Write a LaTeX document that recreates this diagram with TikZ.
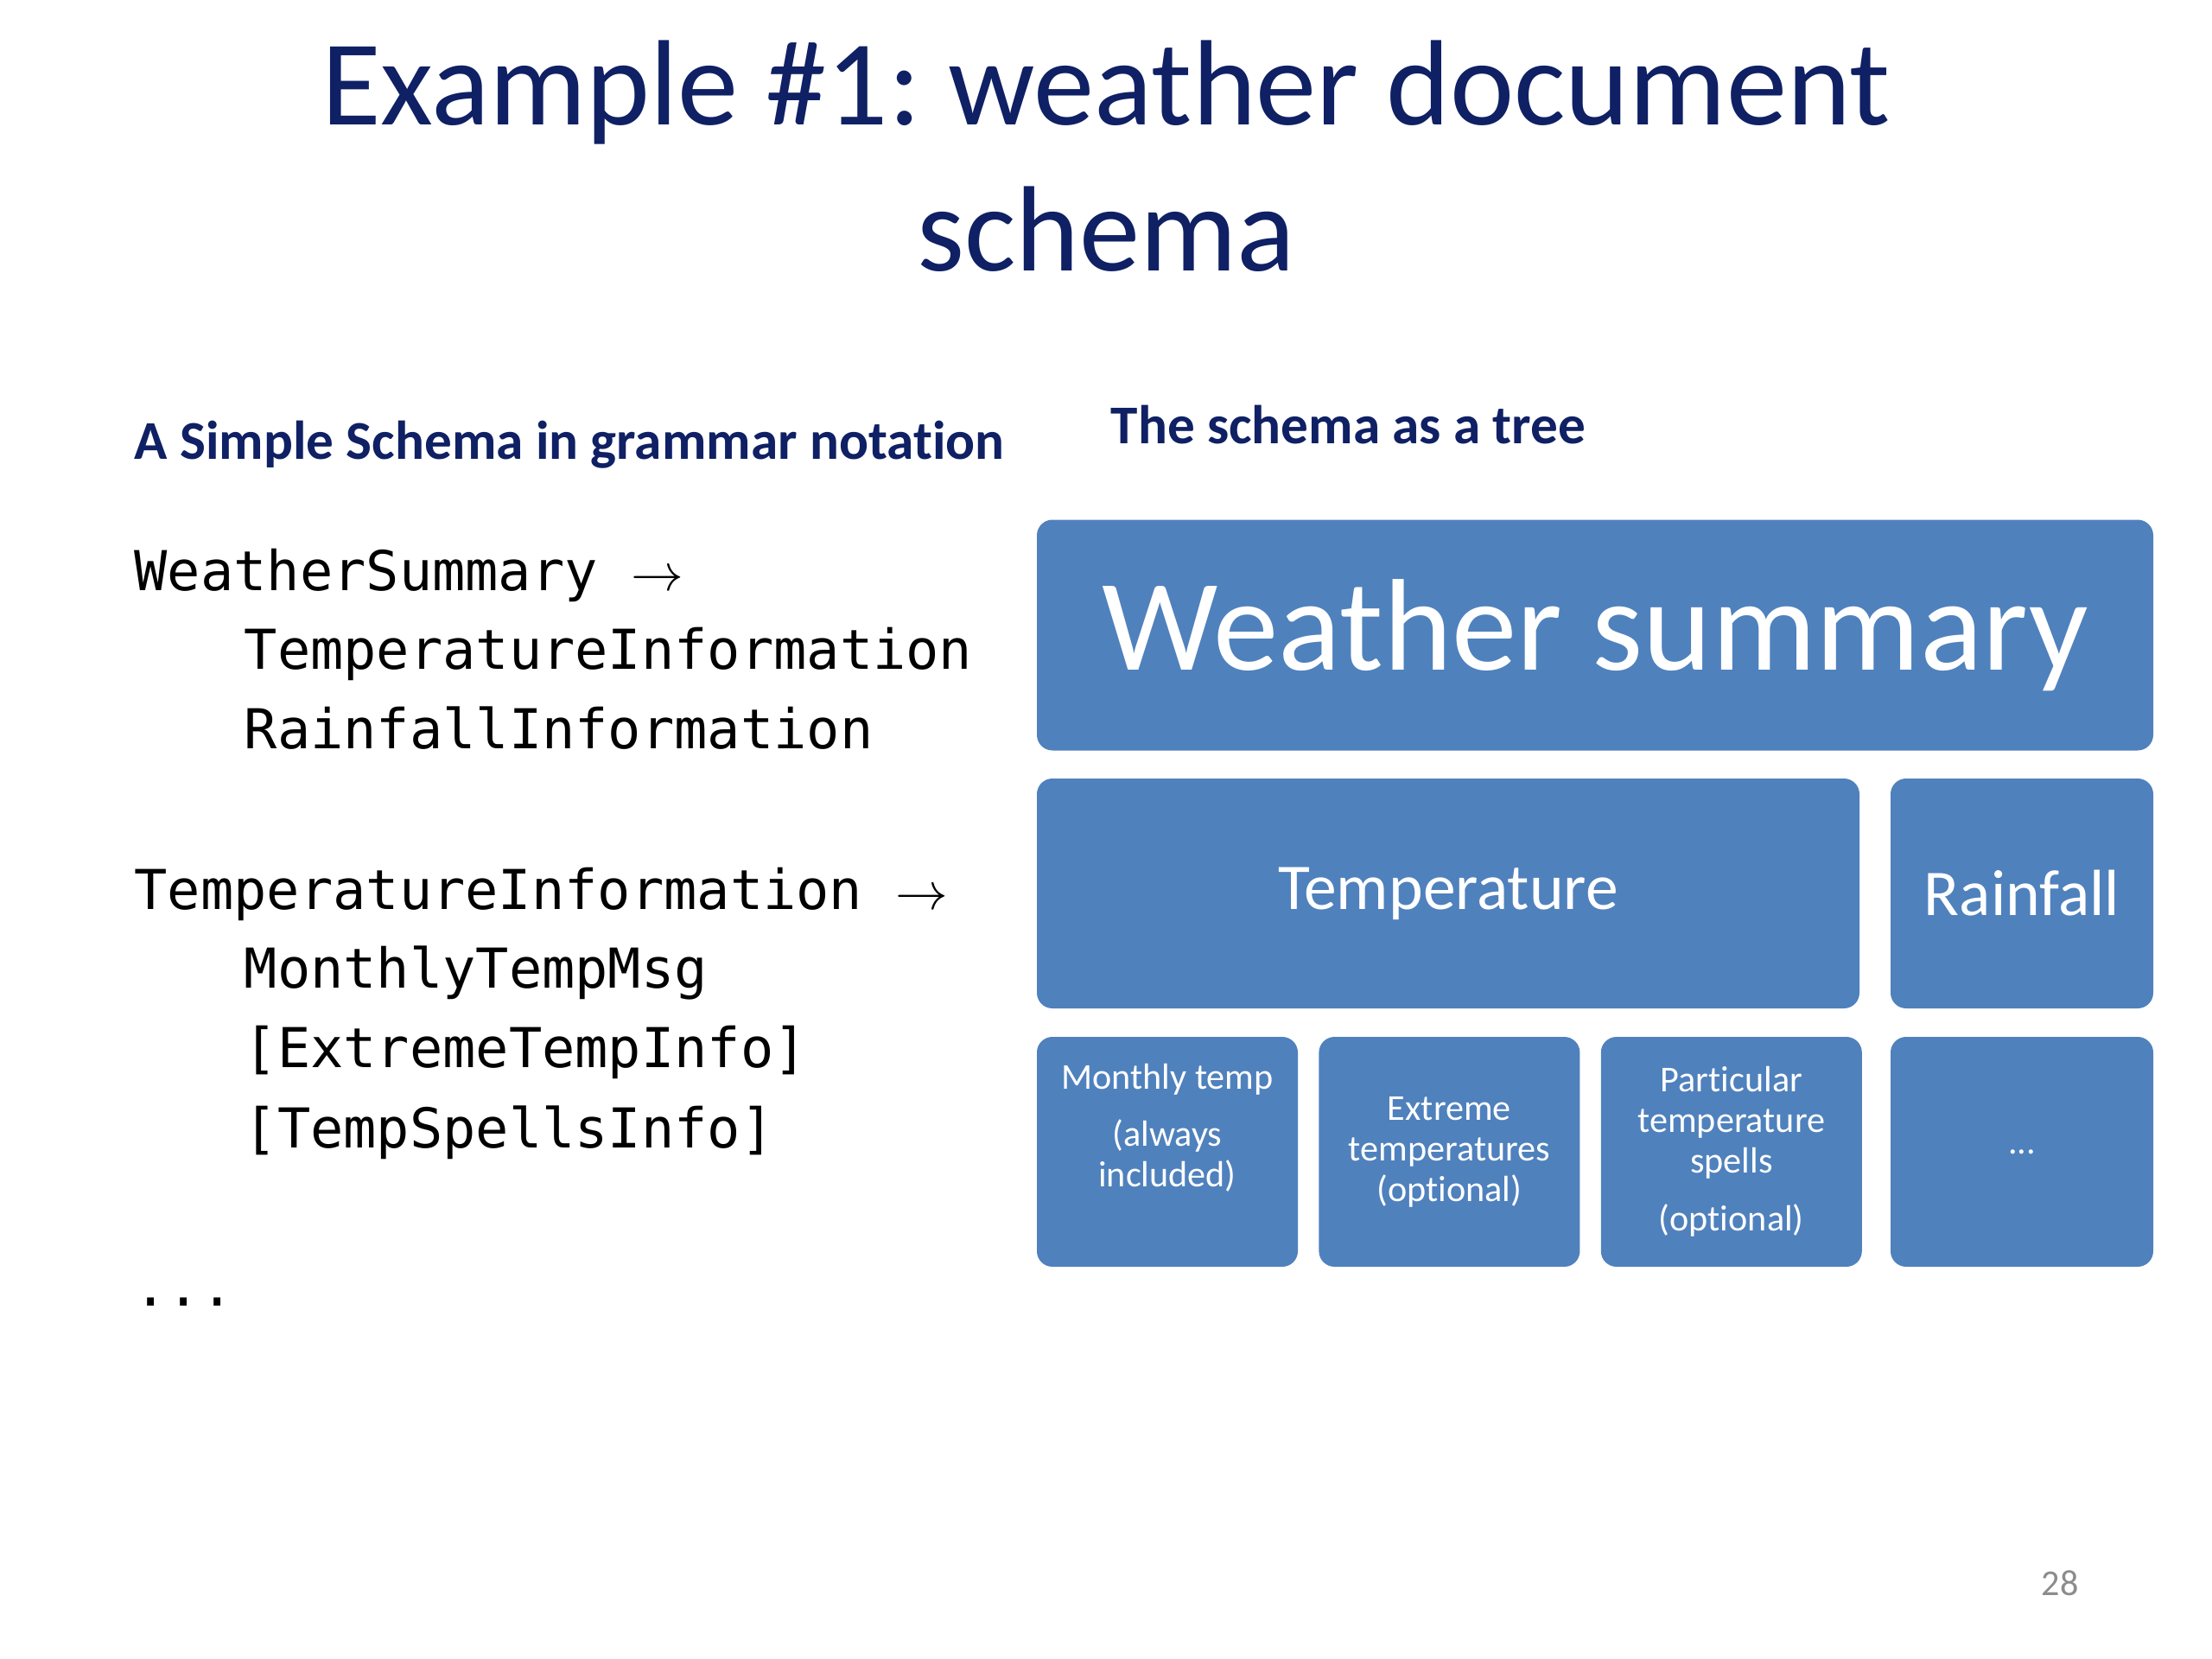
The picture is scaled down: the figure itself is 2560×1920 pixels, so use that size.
\documentclass[tikz,border=0pt]{standalone}
\usepackage{fontspec}
\setmainfont[Ligatures=NoCommon]{Carlito}
\newfontfamily\codefont{DejaVu Sans Mono}
\usetikzlibrary{positioning}
\frenchspacing
\definecolor{slideNavy}{HTML}{0F2064}
\definecolor{treeBlue}{HTML}{4F81BD}
\definecolor{pageGray}{HTML}{8C8C8C}
\tikzset{
  % Slide title, set in two lines.
  wx/title/.style={font=\fontsize{40}{48}\selectfont, text=slideNavy, inner sep=0pt, anchor=base},
  % Column headings.
  wx/head/.style={font=\fontsize{18}{22}\selectfont\bfseries, text=slideNavy,
                  inner sep=0pt, anchor=base west},
  % Grammar lines, one node per line.
  wx/code/.style={font=\codefont\fontsize{18.1}{22}\selectfont, inner sep=0pt, anchor=base west},
  % Tree boxes. All the same blue, no outline.
  wx/box/.style={fill=treeBlue, rounded corners=1.8mm, text=white, inner sep=0pt,
                 minimum height=26.6mm, align=center},
  wx/leaf/.style={wx/box, minimum width=30.2mm, font=\fontsize{12}{13.4}\selectfont},
}

\begin{document}
\begin{tikzpicture}[x=0.1mm,y=-0.1mm]
  \path[fill=white, use as bounding box] (0,0) rectangle (2560,1920);

  \node[wx/title] (title1) at (1280,144) {Example \#1: weather document};
  \node[wx/title] (title2) at (1280,313) {schema};

  % left column: the grammar
  \node[wx/head] (gramHead) at (155,531) {A Simple Schema in grammar notation};
  \node[wx/code] (g1) at (155,683)  {WeatherSummary $\rightarrow$};
  \node[wx/code] (g2) at (282,774)  {TemperatureInformation};
  \node[wx/code] (g3) at (282,866)  {RainfallInformation};
  \node[wx/code] (g4) at (155,1052) {TemperatureInformation $\rightarrow$};
  \node[wx/code] (g5) at (282,1143) {MonthlyTempMsg};
  \node[wx/code] (g6) at (282,1235) {[ExtremeTempInfo]};
  \node[wx/code] (g7) at (282,1328) {[TempSpellsInfo]};
  \node[wx/code] (g8) at (155,1511) {...};

  % right column: the same schema as nested boxes
  \node[wx/head] (treeHead) at (1285,513) {The schema as a tree};
  \node[wx/box, minimum width=129.2mm, minimum height=26.7mm,
        font=\fontsize{43}{50}\selectfont] (ws) at (1846,735) {Weather summary};
  \node[wx/box, minimum width=95.2mm, font=\fontsize{21.5}{26}\selectfont]
        (temp) at (1676,1034) {Temperature};
  \node[wx/box, minimum width=30.4mm, font=\fontsize{21.5}{26}\selectfont]
        (rain) at (2340,1034) {Rainfall};

  \node[wx/leaf] (mt) at (1351,1333) {Monthly temp\\[5.6pt](always\\included)\\\strut};
  \node[wx/leaf, right=2.3mm of mt] (ext) {Extreme\\temperatures\\(optional)};
  \node[wx/leaf, right=2.3mm of ext] (part) {Particular\\temperature\\spells\\[5.6pt](optional)};
  \node[wx/leaf, minimum width=30.4mm] (more) at (2340,1333) {...};

  \node[font=\fontsize{12}{14}\selectfont, text=pageGray] (pageNo) at (2384,1832) {28};
\end{tikzpicture}
\end{document}
